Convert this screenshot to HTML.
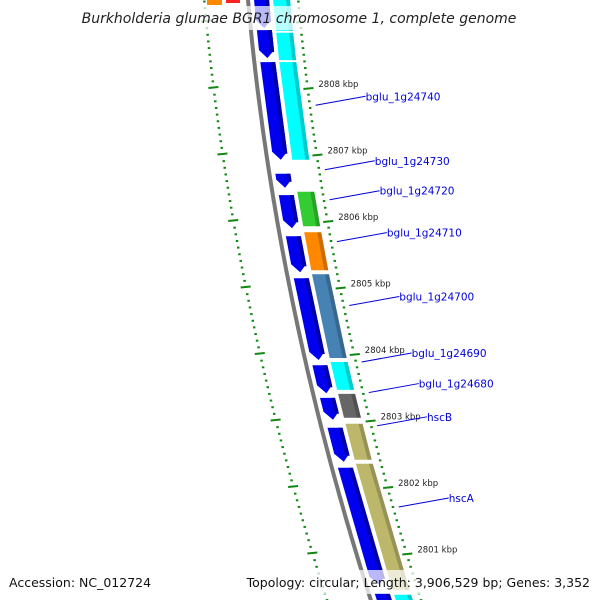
<!DOCTYPE html>
<html><head><meta charset="utf-8"><style>
html,body{margin:0;padding:0;background:#fff;width:600px;height:600px;overflow:hidden}
svg{display:block;font-family:"DejaVu Sans","Liberation Sans",sans-serif}
</style></head><body>
<svg id="map" width="600" height="600" viewBox="0 0 600 600" xmlns="http://www.w3.org/2000/svg">
<g id="layer"></g>
<rect x="0" y="6" width="600" height="24" fill="#fff" fill-opacity="0.72"/>
<text x="299" y="23" text-anchor="middle" font-size="14" font-style="italic" fill="#222">Burkholderia glumae BGR1 chromosome 1, complete genome</text>
<rect x="0" y="570" width="600" height="24" fill="#fff" fill-opacity="0.72"/>
<text x="9" y="587" font-size="12.5" fill="#111">Accession: NC_012724</text>
<text x="590" y="587" text-anchor="end" font-size="12.5" fill="#111">Topology: circular; Length: 3,906,529 bp; Genes: 3,352</text>
</svg>
<script>
const tickKbp = [2808, 2807, 2806, 2805, 2804, 2803, 2802, 2801];
const tickLabels = ["2808 kbp","2807 kbp","2806 kbp","2805 kbp","2804 kbp","2803 kbp","2802 kbp","2801 kbp"];
const blueStarts = [2809.5, 2808.87, 2808.39, 2806.71, 2806.39, 2805.77, 2805.14, 2803.83, 2803.34, 2802.89, 2802.29, 2800.40];
const blueEnds   = [2808.90, 2808.45, 2806.92, 2806.50, 2805.89, 2805.23, 2803.91, 2803.41, 2803.01, 2802.38, 2800.53, 2799.9];
const geneStarts = [2809.5, 2808.83, 2808.39, 2806.44, 2805.83, 2805.20, 2803.88, 2803.40, 2802.95, 2802.35, 2800.38];
const geneEnds   = [2808.86, 2808.42, 2806.92, 2805.92, 2805.26, 2803.94, 2803.46, 2803.04, 2802.41, 2800.45, 2799.9];
const geneColors = ["#00ffff","#00ffff","#00ffff","#33cc33","#ff8800","#4682b4","#00ffff","#666666","#bdb76b","#bdb76b","#00ffff"];
const geneNames = ["bglu_1g24740","bglu_1g24730","bglu_1g24720","bglu_1g24710","bglu_1g24700","bglu_1g24690","bglu_1g24680","hscB","hscA"];
const geneLabelKbp = [2807.74, 2806.77, 2806.32, 2805.69, 2804.73, 2803.88, 2803.42, 2802.92, 2801.70];

const NS="http://www.w3.org/2000/svg";
const layer=document.getElementById('layer');
function yOf(k){return 88+(2808-k)*66.5;}
function xOf(y){return 248+0.09*y+0.000191*y*y;}
function mk(tag,attrs){const e=document.createElementNS(NS,tag);for(const a in attrs)e.setAttribute(a,attrs[a]);layer.appendChild(e);return e;}

// inner dotted tick track
for(let k=2810;k>=2799;k-=0.1){
  const y=yOf(k); if(y<-5||y>605)continue;
  const major=Math.abs(k-Math.round(k))<0.01;
  const x=xOf(y)-44;
  const t=mk('line',{x1:x-(major?5:1),y1:y,x2:x+(major?5:1.5),y2:y+(major?-1:0),stroke:'#118811','stroke-width':2});
  
  
}
// backbone
let d='';for(let y=-5;y<=605;y+=5){d+=(d?'L':'M')+xOf(y).toFixed(1)+' '+y;}
const bb=mk('path',{d:d,stroke:'#777',fill:'none','stroke-width':4});



function band(y1,y2,o1,o2,tip){
  const a=[[xOf(y1)+o1,y1],[xOf(y1)+o2,y1]];
  if(tip){const ym=y2-8;a.push([xOf(ym)+o2,ym],[xOf(y2)+(o1+o2)/2,y2],[xOf(ym)+o1,ym]);}
  else a.push([xOf(y2)+o2,y2],[xOf(y2)+o1,y2]);
  return a.map(p=>p[0].toFixed(1)+','+p[1].toFixed(1)).join(' ');
}
// blue strand features
for(let i=0;i<blueStarts.length;i++){
  const y1=yOf(blueStarts[i]),y2=yOf(blueEnds[i]);
  const p=mk('polygon',{points:band(y1,y2,6,21,true),fill:'#0000ee'});
  
  
  const s=mk('polygon',{points:band(y1,y2-6,17,21,false),fill:'#0000aa'});
  
  
}
// colored gene features
for(let i=0;i<geneStarts.length;i++){
  const y1=yOf(geneStarts[i]),y2=yOf(geneEnds[i]);
  const p=mk('polygon',{points:band(y1,y2,25,42,false),fill:geneColors[i]});
  
  
  const s=mk('polygon',{points:band(y1,y2,38,42,false),fill:'#000','fill-opacity':0.2});
  
  
}
// outer tick ruler
for(let k=2810;k>=2799;k-=0.1){
  const y=yOf(k); if(y<-5||y>605)continue;
  const major=Math.abs(k-Math.round(k))<0.01;
  const x=xOf(y)+50;
  const t=mk('line',{x1:x-(major?4:1),y1:y+(major?1:0),x2:x+(major?6:1.5),y2:y,stroke:'#118811','stroke-width':2});
  
  
}
for(let i=0;i<tickKbp.length;i++){
  const y=yOf(tickKbp[i]);
  const t=mk('text',{x:xOf(y)+61,y:y-1,'font-size':8.5,fill:'#222'});
  t.textContent=tickLabels[i];
  
  
}
// gene labels
for(let i=0;i<geneNames.length;i++){
  const y=yOf(geneLabelKbp[i]);
  const x0=xOf(y)+56;
  const tx=x0+50,ty=y-9;
  const l=mk('line',{x1:x0,y1:y,x2:tx,y2:ty,stroke:'#0000dd','stroke-width':1});
  
  
  const t=mk('text',{x:tx,y:ty+4,'font-size':10.5,fill:'#0000dd'});
  t.textContent=geneNames[i];
  
  
}
// top partial features
const o=mk('rect',{x:207,y:-2,width:15,height:7,fill:'#ff8800'});


const r=mk('rect',{x:226,y:-2,width:14,height:5,fill:'#ff2222'});


</script>
</body></html>
